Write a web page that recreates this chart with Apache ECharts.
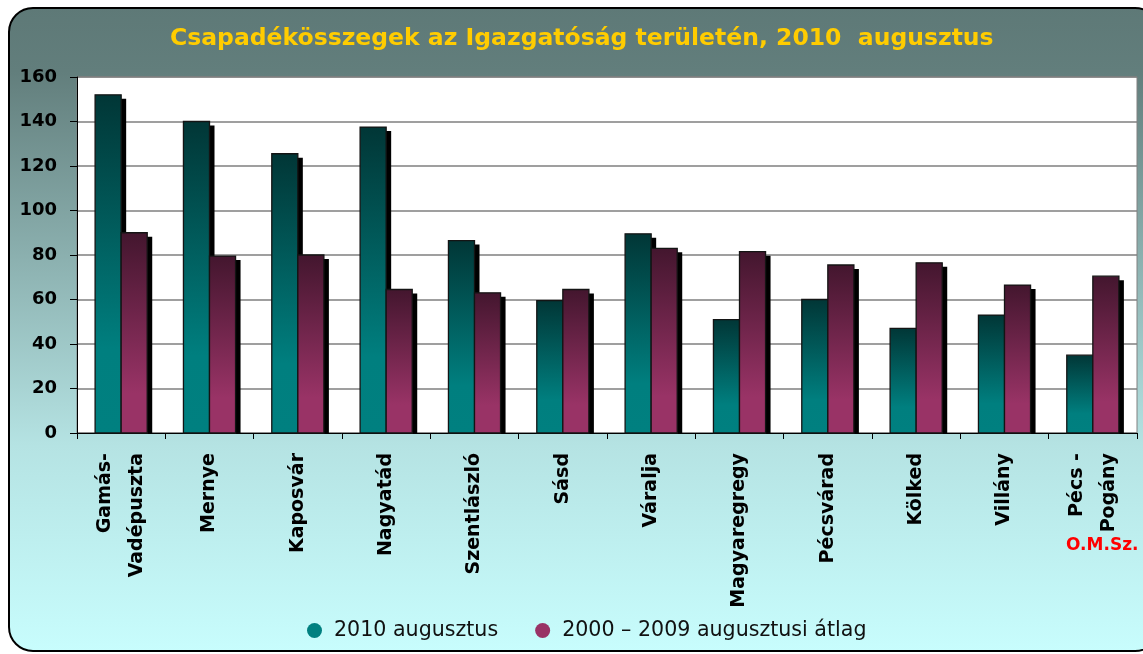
<!DOCTYPE html>
<html>
<head>
<meta charset="utf-8">
<script src="https://cdn.jsdelivr.net/npm/echarts@6/dist/echarts.min.js"></script>
<style>
  html, body { margin: 0; padding: 0; background: #ffffff; }
  #chart { width: 1143px; height: 654px; }
</style>
</head>
<body>
<div id="chart"></div>
<script>
  // allomasok
  const stations = ['Gamás-\nVadépuszta', 'Mernye', 'Kaposvár', 'Nagyatád', 'Szentlászló', 'Sásd',
    'Váralja', 'Magyaregregy', 'Pécsvárad', 'Kölked', 'Villány', 'Pécs -\nPogány'];
  // 2010 augusztus (mm)
  const rain2010 = [152, 140, 125.5, 137.5, 86.5, 59.5, 89.5, 51, 60, 47, 53, 35];
  // 2000-2009 augusztusi atlag (mm)
  const rainAvg = [90, 79.5, 80, 64.5, 63, 64.5, 83, 81.5, 75.5, 76.5, 66.5, 70.5];
  const yTicks = [0, 20, 40, 60, 80, 100, 120, 140, 160];

  const chart = echarts.init(document.getElementById('chart'));

  const tealGrad = new echarts.graphic.LinearGradient(0, 0, 0, 1, [
    { offset: 0, color: '#013636' },
    { offset: 0.75, color: '#007f7f' },
    { offset: 1, color: '#008080' }
  ]);
  const purpleGrad = new echarts.graphic.LinearGradient(0, 0, 0, 1, [
    { offset: 0, color: '#43162e' },
    { offset: 0.8, color: '#993366' },
    { offset: 1, color: '#993366' }
  ]);

  function makeRender(side, grad) {
    return function (params, api) {
      const idx = api.value(0);
      const top = api.coord([idx, api.value(1)]);
      const base = api.coord([idx, 0]);
      const bw = api.size([1, 0])[0] * 0.295;
      const x = side === 0 ? top[0] - bw : top[0];
      const h = base[1] - top[1];
      return {
        type: 'group',
        children: [
          { type: 'rect', shape: { x: x + 5, y: top[1] + 4, width: bw, height: Math.max(h - 4, 0) },
            style: { fill: '#000000' } },
          { type: 'rect', shape: { x: x, y: top[1], width: bw, height: h },
            style: { fill: grad, stroke: '#141414', lineWidth: 1.3 } }
        ]
      };
    };
  }

  const option = {
    animation: false,
    graphic: [
      {
        type: 'rect', z: -10, silent: true,
        shape: { x: 9, y: 8, width: 1150, height: 643, r: 24 },
        style: {
          fill: new echarts.graphic.LinearGradient(0, 0, 0, 1, [
            { offset: 0, color: '#5e7977' },
            { offset: 0.1, color: '#627e7c' },
            { offset: 0.68, color: '#b5e3e3' },
            { offset: 1, color: '#c8fdfd' }
          ]),
          stroke: '#000000', lineWidth: 2
        }
      },
      {
        type: 'text', left: 1066, top: 537,
        style: { text: 'O.M.Sz.', fill: '#ff0000', font: 'bold 17px "DejaVu Sans"' }
      }
    ],
    title: {
      text: 'Csapadékösszegek az Igazgatóság területén, 2010  augusztus',
      left: 165,
      top: 22,
      textStyle: { color: '#ffcc00', fontSize: 23.5, fontWeight: 'bold', fontFamily: 'DejaVu Sans' }
    },
    legend: {
      bottom: 8,
      left: 302,
      icon: 'circle',
      itemWidth: 15,
      itemHeight: 15,
      itemGap: 37,
      textStyle: { fontSize: 20.6, color: '#111', fontFamily: 'DejaVu Sans', padding: [0, 0, 0, 7] },
      data: [
        { name: '2010 augusztus', itemStyle: { color: '#008080' } },
        { name: '2000 – 2009 augusztusi átlag', itemStyle: { color: '#993366' } }
      ]
    },
    grid: {
      left: 77, right: 6, top: 77, bottom: 221,
      show: true, backgroundColor: '#ffffff', borderColor: '#808080', borderWidth: 1
    },
    xAxis: {
      type: 'category',
      data: stations,
      axisLine: { lineStyle: { color: '#000', width: 1 } },
      axisTick: { show: true, length: 6, lineStyle: { color: '#000' } },
      axisLabel: {
        rotate: 90, margin: 20, interval: 0, align: 'right',
        fontSize: 19, fontWeight: 'bold', fontFamily: 'DejaVu Sans', color: '#000', lineHeight: 32
      }
    },
    yAxis: {
      type: 'value',
      min: yTicks[0], max: yTicks[yTicks.length - 1], interval: 20,
      axisLine: { show: true, lineStyle: { color: '#000', width: 1 } },
      axisTick: { show: true, length: 7, lineStyle: { color: '#000' } },
      axisLabel: { margin: 20, fontSize: 18, fontWeight: 'bold', fontFamily: 'DejaVu Sans', color: '#000' },
      splitLine: { lineStyle: { color: '#7f7f7f', width: 1.5 } }
    },
    series: [
      {
        name: '2010 augusztus', type: 'custom',
        itemStyle: { color: '#008080' },
        encode: { x: 0, y: 1 },
        data: rain2010.map((v, i) => [i, v]),
        renderItem: makeRender(0, tealGrad)
      },
      {
        name: '2000 – 2009 augusztusi átlag', type: 'custom',
        itemStyle: { color: '#993366' },
        encode: { x: 0, y: 1 },
        data: rainAvg.map((v, i) => [i, v]),
        renderItem: makeRender(1, purpleGrad)
      }
    ]
  };

  chart.setOption(option);
</script>
</body>
</html>
